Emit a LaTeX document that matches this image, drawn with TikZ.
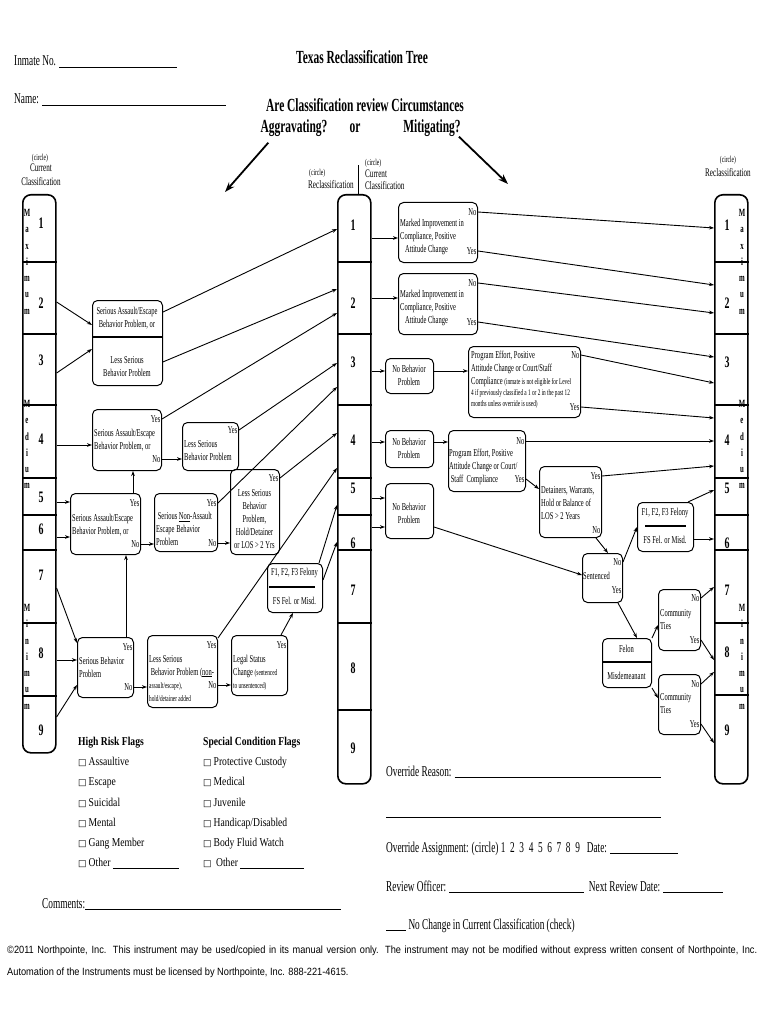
\documentclass[tikz,border=0pt]{standalone}
\usepackage{fontspec}
\setmainfont{Liberation Serif}[FakeStretch=0.62]
\newfontfamily\flagfont{Liberation Serif}[FakeStretch=0.8]
\newfontfamily\footfont{Liberation Sans}[FakeStretch=0.88]
\newfontfamily\symfont{DejaVu Sans}
\usetikzlibrary{arrows.meta,positioning,calc}
\newcommand{\bx}{\fontsize{10.5}{13}\selectfont}
\newcommand{\sm}{\fontsize{8.5}{11}\selectfont}
\newcommand{\chk}{{\symfont\fontsize{9}{9}\selectfont\symbol{"25A1}}\,}
\newcommand{\blank}[1]{\rule[-1.5pt]{#1pt}{0.6pt}}
\tikzset{
  col/.style={draw,line width=1.6pt,rounded corners=8pt,minimum width=33pt,anchor=north west,inner sep=0pt},
  div/.style={line width=1.1pt},
  box/.style={draw,line width=1pt,rounded corners=5pt,inner sep=0pt,anchor=north west},
  btxt/.style={font=\bx,inner sep=0pt,align=left,anchor=north west},
  ctxt/.style={font=\bx,inner sep=0pt,align=center},
  yn/.style={font=\bx,inner sep=1.5pt,anchor=east},
  ar/.style={-{Stealth[length=5pt,width=3.6pt]},line width=0.9pt},
  bigar/.style={-{Stealth[length=10pt,width=7pt]},line width=1.8pt},
  num/.style={font=\bfseries\fontsize{16}{16}\selectfont,inner sep=0pt},
  vlet/.style={font=\bfseries\fontsize{11}{16.3}\selectfont,align=center,anchor=north,inner sep=0pt},
  hdr/.style={font=\fontsize{11.5}{13.5}\selectfont,align=center,inner sep=0pt},
  tiny/.style={font=\fontsize{9}{10}\selectfont,inner sep=0pt},
  form/.style={font=\fontsize{15}{17}\selectfont,anchor=base west,inner sep=0pt},
  head/.style={font=\bfseries\fontsize{18.5}{20}\selectfont,inner sep=0pt},
  flag/.style={font=\flagfont\fontsize{12}{20.2}\selectfont,align=left,anchor=north west,inner sep=0pt},
}
\begin{document}
\begin{tikzpicture}[x=1pt,y=-1pt]
\useasboundingbox (0,0) rectangle (770,1024);
\fill[white] (0,0) rectangle (770,1024);

% header
\node[form] (inmate) at (14,66) {Inmate No. \blank{118}};
\node[form] (name) at (14,104) {Name: \blank{184}};
\node[head] (title) at (362,57) {Texas Reclassification Tree};
\node[head] (quest) at (365,105) {Are Classification review Circumstances};
\node[head] (agg) at (294,128) {Aggravating?};
\node[head] (orw) at (355,128) {or};
\node[head] (mit) at (432,128) {Mitigating?};
\coordinate (aggTip) at (225,192);
\coordinate (mitTip) at (508,184);
\draw[bigar] ($(agg.south west)+(8,6)$) -- (aggTip);
\draw[bigar] ($(mit.south east)+(-2,0)$) -- (mitTip);

% column captions
\node[tiny] (lCirc) at (40,158) {(circle)};
\node[hdr] (lCur) at (41,175) {Current\\Classification};
\node[tiny,anchor=west] (cCircL) at (309,173) {(circle)};
\node[hdr,anchor=west] (cRecl) at (308,185) {Reclassification};
\node[tiny,anchor=west] (cCircR) at (365,163) {(circle)};
\node[hdr,anchor=west] (cCur) at (365,174) {Current};
\node[hdr,anchor=west] (cCls) at (365,186) {Classification};
\node[tiny] (rCirc) at (728,160) {(circle)};
\node[hdr] (rRecl) at (728,173) {Reclassification};

% classification columns
\node[col,minimum height=558pt] (colL) at (22,194) {};
\node[col,minimum height=589pt] (colC) at (337,194) {};
\node[col,minimum height=589pt] (colR) at (714,194) {};
\draw[div] ($(colC.north)+(4,0)$) -- ++(0,-29);
\foreach \c in {colL,colC,colR}{
  \foreach \y in {262,334,405,478,550,623}
    \draw[div] (\c.west |- 0,\y) -- (\c.east |- 0,\y);
  \draw[line width=2.2pt] (\c.west |- 0,515) -- (\c.east |- 0,515);
}
\draw[div] (colL.west |- 0,696) -- (colL.east |- 0,696);
\draw[div] (colC.west |- 0,710) -- (colC.east |- 0,710);
\draw[div] (colR.west |- 0,695) -- (colR.east |- 0,695);
\foreach \n/\y in {1/223,2/303,3/360,4/439,5/497,6/529,7/575,8/653,9/730}
  \node[num] (ln\n) at (41,\y) {\n};
\foreach \n/\y in {1/225,2/303,3/362,4/440,5/488,6/543,7/590,8/668,9/748}
  \node[num] (cn\n) at (353,\y) {\n};
\foreach \n/\y in {1/225,2/303,3/362,4/440,5/488,6/543,7/590,8/652,9/730}
  \node[num] (rn\n) at (727,\y) {\n};
\foreach \s/\x in {l/27,r/742}{
  \node[vlet] (\s-max) at (\x,209) {M\\a\\x\\i\\m\\u\\m};
  \node[vlet] (\s-med) at (\x,400) {M\\e\\d\\i\\u\\m};
  \node[vlet] (\s-min) at (\x,604) {M\\i\\n\\i\\m\\u\\m};
}

% where the arrows meet the columns
\foreach \nm/\y in {cA1/229,cA2/289,cB/313,cC/363,cD/387,cE/433,cI/468,cF1/505,cF2/542}
  \coordinate (\nm) at (colC.west |- 0,\y);
\foreach \nm/\y in {rK1n/228,rK1y/285,rK2n/313,rK2y/357,rMn/383,rMy/418,rOn/441,rPy/466,rSf/490,rSm/539,rU1n/587,rU1y/660,rU2n/672,rU2y/743}
  \coordinate (\nm) at (colR.west |- 0,\y);

% aggravating side
\node[box,minimum width=70pt,minimum height=85pt] (agMax) at (92,300) {};
\draw[div] (agMax.west |- 0,337) -- (agMax.east |- 0,337);
\node[ctxt] (agMaxSer) at (127,318) {Serious Assault/Escape\\Behavior Problem, or};
\node[ctxt] (agMaxLess) at (127,367) {Less Serious\\Behavior Problem};

\node[box,minimum width=69pt,minimum height=61pt] (agMed) at (92,409) {};
\node[btxt] (agMedT) at (94,429) {Serious Assault/Escape\\Behavior Problem, or};
\node[yn] (agMed-y) at (agMed.east |- 0,419) {Yes};
\node[yn] (agMed-n) at (agMed.east |- 0,459) {No};

\node[box,minimum width=56pt,minimum height=48pt] (agLess) at (182,422) {};
\node[btxt] (agLessT) at (184,440) {Less Serious\\Behavior Problem};
\node[yn] (agLess-y) at (agLess.east |- 0,430) {Yes};

\node[box,minimum width=70pt,minimum height=61pt] (agMedB) at (70,493) {};
\node[btxt] (agMedBT) at (72,514) {Serious Assault/Escape\\Behavior Problem, or};
\node[yn] (agMedB-y) at (agMedB.east |- 0,503) {Yes};
\node[yn] (agMedB-n) at (agMedB.east |- 0,544) {No};

\node[box,minimum width=63pt,minimum height=58pt] (agNon) at (154,493) {};
\node[btxt] (agNonT) at (156,512) {\ Serious \underline{Non}-Assault\\Escape Behavior\\Problem};
\node[yn] (agNon-y) at (agNon.east |- 0,503) {Yes};
\node[yn] (agNon-n) at (agNon.east |- 0,543) {No};

\node[box,minimum width=49pt,minimum height=85pt] (agHold) at (230,469) {};
\node[ctxt] (agHoldT) at (254.5,519) {Less Serious\\Behavior\\Problem,\\Hold/Detainer\\or LOS > 2 Yrs};
\node[yn] (agHold-y) at (agHold.east |- 0,478) {Yes};

\node[box,minimum width=55pt,minimum height=49pt] (agFel) at (267,563) {};
\node[ctxt] (agFelHi) at (294.5,573) {F1, F2, F3 Felony};
\draw[line width=1.4pt] (269,587) -- (315,587);
\node[ctxt] (agFelLo) at (294.5,601) {FS Fel. or Misd.};

\node[box,minimum width=56pt,minimum height=60pt] (agMin) at (77,637) {};
\node[btxt] (agMinT) at (79,657) {Serious Behavior\\Problem};
\node[yn] (agMin-y) at (agMin.east |- 0,647) {Yes};
\node[yn] (agMin-n) at (agMin.east |- 0,687) {No};

\node[box,minimum width=70pt,minimum height=72pt] (agLessMin) at (147,635) {};
\node[btxt] (agLessMinT) at (149,655) {Less Serious\\\ Behavior Problem (\underline{non}-\\{\sm assault/escape),}\\{\sm hold/detainer added}};
\node[yn] (agLessMin-y) at (agLessMin.east |- 0,645) {Yes};
\node[yn] (agLessMin-n) at (agLessMin.east |- 0,685) {No};

\node[box,minimum width=56pt,minimum height=60pt] (agLegal) at (231,635) {};
\node[btxt] (agLegalT) at (233,655) {Legal Status\\Change {\sm(sentenced}\\{\sm to unsentenced)}};
\node[yn] (agLegal-y) at (agLegal.east |- 0,645) {Yes};

\draw[ar] (colL.east |- 0,302) -- (agMax.west |- 0,325);
\draw[ar] (colL.east |- 0,373) -- (agMax.west |- 0,349);
\draw[ar] ($(agMax.north east)!0.14!(agMax.south east)$) -- (cA1);
\draw[ar] ($(agMax.north east)!0.72!(agMax.south east)$) -- (cA2);
\draw[ar] (colL.east |- 0,445) -- (agMed.west |- 0,445);
\draw[ar] (agMed-y.east) -- (cB);
\draw[ar] (agMed-n.east) -- (agLess.west |- 0,459);
\draw[ar] (agLess-y.east) -- (cC);
\draw[ar] (colL.east |- 0,502) -- (agMedB.west |- 0,502);
\draw[ar] (colL.east |- 0,537) -- (agMedB.west |- 0,537);
\draw[ar] (agMedB.north -| 133,0) -- (agMed.south -| 133,0);
\draw[ar] (agMedB-n.east) -- (agNon.west |- 0,544);
\draw[ar] (agNon-y.east) -- (cD);
\draw[ar] (agNon-n.east) -- (agHold.west |- 0,543);
\draw[ar] (agHold-y.east) -- (cE);
\draw[ar] (colL.east |- 0,588) -- (agMin.west |- 0,643);
\draw[ar] (colL.east |- 0,660) -- (agMin.west |- 0,660);
\draw[ar] (colL.east |- 0,717) -- (agMin.west |- 0,685);
\draw[ar] (agMin.north -| 126,0) -- (agMedB.south -| 126,0);
\draw[ar] (agMin-n.east) -- (agLessMin.west |- 0,687);
\draw[ar] ($(agLessMin.north east)+(0,3)$) -- (cI);
\draw[ar] (agLessMin-n.east) -- (agLegal.west |- 0,685);
\draw[ar] ($(agLegal.north east)+(-7,0)$) -- (agFel.south -| 293,0);
\draw[ar] ($(agFel.north east)+(-4,0)$) -- (cF1);
\draw[ar] (agFel.east |- 0,580) -- (cF2);

% mitigating side
\node[box,minimum width=79pt,minimum height=60pt] (miImp1) at (398,202) {};
\node[btxt] (miImp1T) at (400,219) {Marked Improvement in\\Compliance, Positive\\\ \ \ Attitude Change};
\node[yn] (miImp1-n) at (miImp1.east |- 0,212) {No};
\node[yn] (miImp1-y) at (miImp1.east |- 0,251) {Yes};

\node[box,minimum width=79pt,minimum height=61pt] (miImp2) at (398,273) {};
\node[btxt] (miImp2T) at (400,290) {Marked Improvement in\\Compliance, Positive\\\ \ \ Attitude Change};
\node[yn] (miImp2-n) at (miImp2.east |- 0,283) {No};
\node[yn] (miImp2-y) at (miImp2.east |- 0,322) {Yes};

\node[box,minimum width=48pt,minimum height=35pt] (miNB3) at (385,358) {};
\node[ctxt] (miNB3T) at (409,375.5) {No Behavior\\Problem};

\node[box,minimum width=112pt,minimum height=71pt] (miProg3) at (468,346) {};
\node[btxt] (miProg3T) at (471,351) {Program Effort, Positive\\Attitude Change or Court/Staff\\Compliance {\sm(inmate is not eligible for Level}\\[-2pt]{\sm 4 if previously classified a 1 or 2 in the past 12}\\[-2pt]{\sm months unless override is used)}};
\node[yn] (miProg3-n) at (miProg3.east |- 0,355) {No};
\node[yn] (miProg3-y) at (miProg3.east |- 0,407) {Yes};

\node[box,minimum width=48pt,minimum height=37pt] (miNB4) at (385,430) {};
\node[ctxt] (miNB4T) at (409,448.5) {No Behavior\\Problem};

\node[box,minimum width=77pt,minimum height=61pt] (miProg4) at (448,430) {};
\node[btxt] (miProg4T) at (449,449) {Program Effort, Positive\\Attitude Change or Court/\\\ Staff\ \ Compliance};
\node[yn] (miProg4-n) at (miProg4.east |- 0,441) {No};
\node[yn] (miProg4-y) at (miProg4.east |- 0,479) {Yes};

\node[box,minimum width=62pt,minimum height=71pt] (miDet) at (539,466) {};
\node[btxt] (miDetT) at (541,486) {Detainers, Warrants,\\Hold or Balance of\\LOS > 2 Years};
\node[yn] (miDet-y) at (miDet.east |- 0,476) {Yes};
\node[yn] (miDet-n) at (miDet.east |- 0,530) {No};

\node[box,minimum width=48pt,minimum height=55pt] (miNB56) at (385,483) {};
\node[ctxt] (miNB56T) at (409,513) {No Behavior\\Problem};

\node[box,minimum width=40pt,minimum height=49pt] (miSent) at (582,553) {};
\node[btxt] (miSentT) at (583,572) {Sentenced};
\node[yn] (miSent-n) at (miSent.east |- 0,562) {No};
\node[yn] (miSent-y) at (miSent.east |- 0,590) {Yes};

\node[box,minimum width=56pt,minimum height=49pt] (miFel) at (637,502) {};
\node[ctxt] (miFelHi) at (665,513) {F1, F2, F3 Felony};
\draw[line width=1.4pt] (645,526) -- (686,526);
\node[ctxt] (miFelLo) at (665,540) {FS Fel. or Misd.};

\node[box,minimum width=49pt,minimum height=49pt] (miFelon) at (602,638) {};
\draw[div] (miFelon.west |- 0,662) -- (miFelon.east |- 0,662);
\node[ctxt] (miFelonHi) at (626.5,649) {Felon};
\node[ctxt] (miFelonLo) at (626.5,676) {Misdemeanant};

\node[box,minimum width=42pt,minimum height=61pt] (miTies1) at (658,589) {};
\node[btxt] (miTies1T) at (660,609) {Community\\Ties};
\node[yn] (miTies1-n) at (miTies1.east |- 0,598) {No};
\node[yn] (miTies1-y) at (miTies1.east |- 0,640) {Yes};

\node[box,minimum width=42pt,minimum height=60pt] (miTies2) at (658,674) {};
\node[btxt] (miTies2T) at (660,693) {Community\\Ties};
\node[yn] (miTies2-n) at (miTies2.east |- 0,684) {No};
\node[yn] (miTies2-y) at (miTies2.east |- 0,724) {Yes};

\draw[ar] (colC.east |- 0,238) -- (miImp1.west |- 0,238);
\draw[ar] (colC.east |- 0,298) -- (miImp2.west |- 0,298);
\draw[ar] (miImp1-n.east) -- (rK1n);
\draw[ar] (miImp1-y.east) -- (rK1y);
\draw[ar] (miImp2-n.east) -- (rK2n);
\draw[ar] (miImp2-y.east) -- (rK2y);
\draw[ar] (colC.east |- 0,371) -- (miNB3.west |- 0,371);
\draw[ar] (miNB3.east |- 0,371) -- (miProg3.west |- 0,371);
\draw[ar] (miProg3-n.east) -- (rMn);
\draw[ar] (miProg3-y.east) -- (rMy);
\draw[ar] (colC.east |- 0,442) -- (miNB4.west |- 0,442);
\draw[ar] (miNB4.east |- 0,442) -- (miProg4.west |- 0,442);
\draw[ar] (miProg4-n.east) -- (rOn);
\draw[ar] (miProg4-y.east) -- (miDet.west |- 0,489);
\draw[ar] (miDet-y.east) -- (rPy);
\draw[ar] ($(miDet.south east)+(-6,0)$) -- ($(miSent.north west)+(26,0)$);
\draw[ar] (colC.east |- 0,498) -- (miNB56.west |- 0,498);
\draw[ar] (colC.east |- 0,527) -- (miNB56.west |- 0,527);
\draw[ar] (miNB56.east |- 0,527) -- (miSent.west |- 0,575);
\draw[ar] (miSent-n.east) -- (miFel.west |- 0,527);
\draw[ar] ($(miFel.north east)+(-6,0)$) -- (rSf);
\draw[ar] (miFel.east |- 0,539) -- (rSm);
\draw[ar] ($(miSent.south east)+(-5,0)$) -- ($(miFelon.north)+(10,0)$);
\draw[ar] (miFelon.north east) -- (miTies1.west |- 0,625);
\draw[ar] (miFelon.south east) -- (miTies2.west |- 0,698);
\draw[ar] (miTies1-n.east) -- (rU1n);
\draw[ar] (miTies1-y.east) -- (rU1y);
\draw[ar] (miTies2-n.east) -- (rU2n);
\draw[ar] (miTies2-y.east) -- (rU2y);

% flags
\node[flag] (hiRisk) at (78,737) {\textbf{High Risk Flags}\\\chk Assaultive\\\chk Escape\\\chk Suicidal\\\chk Mental\\\chk Gang Member\\\chk Other \blank{66}};
\node[flag] (special) at (203,737) {\textbf{Special Condition Flags}\\\chk Protective Custody\\\chk Medical\\\chk Juvenile\\\chk Handicap/Disabled\\\chk Body Fluid Watch\\\chk\ Other \blank{64}};

% override block
\node[form] (comments) at (42,908) {Comments:\blank{256}};
\node[form] (ovReason) at (386,776) {Override Reason: \blank{206}};
\node[form] (ovLine) at (386,816) {\blank{275}};
\node[form] (ovAssign) at (386,852) {Override Assignment: (circle) 1~~2~~3~~4~~5~~6~~7~~8~~9~~ Date: \blank{68}};
\node[form] (review) at (386,891) {Review Officer: \blank{135}~~Next Review Date: \blank{60}};
\node[form] (noChange) at (386,929) {\blank{20} No Change in Current Classification (check)};

% footer
\node[anchor=base west,inner sep=0pt,font=\footfont\fontsize{10.5}{12}\selectfont] (foot1) at (7,953) {\makebox[750pt][s]{©2011 Northpointe, Inc. This instrument may be used/copied in its manual version only. The instrument may not be modified without express written consent of Northpointe, Inc.}};
\node[anchor=base west,inner sep=0pt,font=\footfont\fontsize{10.5}{12}\selectfont] (foot2) at (7,975) {Automation of the Instruments must be licensed by Northpointe, Inc. 888-221-4615.};
\end{tikzpicture}
\end{document}
